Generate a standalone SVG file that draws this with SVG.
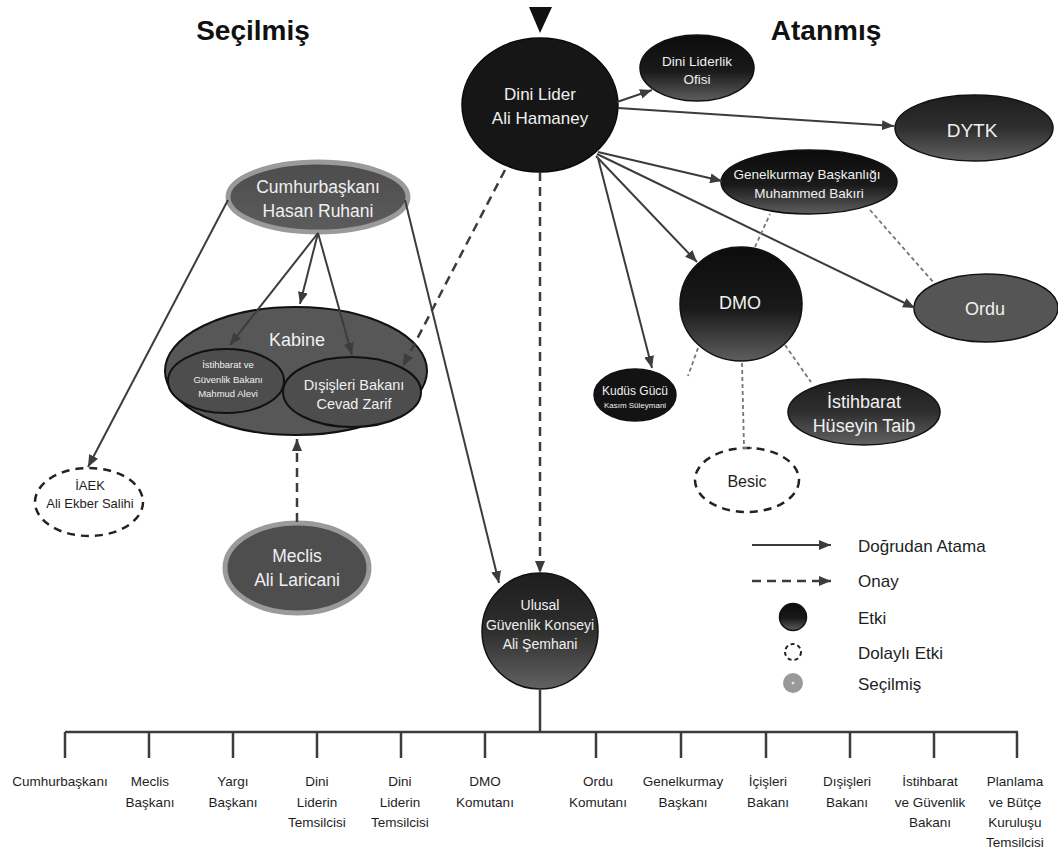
<svg xmlns="http://www.w3.org/2000/svg" width="1058" height="854" viewBox="0 0 1058 854">
<defs>
<linearGradient id="gBlack" x1="0" y1="0" x2="0" y2="1">
<stop offset="0" stop-color="#0c0c0c"/><stop offset="0.55" stop-color="#1a1a1a"/><stop offset="1" stop-color="#5e5e5e"/>
</linearGradient>
<linearGradient id="gDark" x1="0" y1="0" x2="0" y2="1">
<stop offset="0" stop-color="#1e1e1e"/><stop offset="0.5" stop-color="#2e2e2e"/><stop offset="1" stop-color="#626262"/>
</linearGradient>
<linearGradient id="gGray" x1="0" y1="0" x2="0" y2="1">
<stop offset="0" stop-color="#4c4c4c"/><stop offset="1" stop-color="#5c5c5c"/>
</linearGradient>
<marker id="ah" viewBox="0 0 12 10" refX="12" refY="5" markerWidth="12" markerHeight="10" markerUnits="userSpaceOnUse" orient="auto">
<path d="M0,0 L12,5 L0,10 z" fill="#3c3c3c"/>
</marker>
<style>
.t{font-family:"Liberation Sans",Arial,sans-serif;fill:#f0f0f0;text-anchor:middle}
.d{font-family:"Liberation Sans",Arial,sans-serif;fill:#1e1e1e;text-anchor:middle}
.title{font-family:"Liberation Sans",Arial,sans-serif;font-weight:bold;font-size:28px;fill:#111;text-anchor:middle}
.lg{font-family:"Liberation Sans",Arial,sans-serif;font-size:17px;fill:#1e1e1e}
.bl{font-family:"Liberation Sans",Arial,sans-serif;font-size:13.5px;fill:#1e1e1e;text-anchor:middle}
.sol{stroke:#3c3c3c;stroke-width:2;fill:none}
.dsh{stroke:#3c3c3c;stroke-width:2.5;fill:none;stroke-dasharray:9 6}
.thin{stroke:#777;stroke-width:1.8;fill:none;stroke-dasharray:4 3}
.tree{stroke:#3c3c3c;stroke-width:2.5;fill:none}
.etki{stroke:#111;stroke-width:1.5}
.sec{stroke:#9a9a9a;stroke-width:5}
.ind{fill:#fff;stroke:#222;stroke-width:2.5;stroke-dasharray:8 6}
</style>
</defs>
<rect width="1058" height="854" fill="#fff"/>

<text class="title" x="253" y="40">Seçilmiş</text>
<text class="title" x="826" y="40">Atanmış</text>
<polygon points="529,7 552,7 540,33" fill="#111"/>

<g id="dini-lider">
<ellipse cx="540" cy="105" rx="78" ry="67" fill="#161616" stroke="#0a0a0a" stroke-width="1.5"/>
<text class="t" x="540" y="100" font-size="17">Dini Lider</text>
<text class="t" x="540" y="124" font-size="17">Ali Hamaney</text>
</g>
<g id="ofis">
<ellipse cx="697" cy="68" rx="57" ry="33" fill="url(#gBlack)" class="etki"/>
<text class="t" x="697" y="66" font-size="13.5">Dini Liderlik</text>
<text class="t" x="697" y="84" font-size="13.5">Ofisi</text>
</g>
<g id="dytk">
<ellipse cx="974" cy="128" rx="79" ry="33" fill="url(#gDark)" class="etki"/>
<text class="t" x="972" y="137" font-size="19">DYTK</text>
</g>
<g id="genelkurmay">
<ellipse cx="809" cy="182" rx="88" ry="32" fill="url(#gBlack)" class="etki"/>
<text class="t" x="807" y="179" font-size="13.5">Genelkurmay Başkanlığı</text>
<text class="t" x="809" y="198" font-size="13.5">Muhammed Bakıri</text>
</g>
<g id="ordu">
<ellipse cx="986" cy="308" rx="72" ry="34" fill="#555" class="etki"/>
<text class="t" x="985" y="315" font-size="18">Ordu</text>
</g>
<g id="dmo">
<ellipse cx="741" cy="304" rx="61" ry="57" fill="url(#gBlack)" class="etki"/>
<text class="t" x="740" y="309" font-size="18">DMO</text>
</g>
<g id="kudus">
<ellipse cx="635" cy="395" rx="41" ry="26" fill="#131313" class="etki"/>
<text class="t" x="635" y="395" font-size="12">Kudüs Gücü</text>
<text class="t" x="635" y="408" font-size="8">Kasım Süleymani</text>
</g>
<g id="istihbarat">
<ellipse cx="864" cy="412" rx="76" ry="33" fill="url(#gDark)" class="etki"/>
<text class="t" x="864" y="408" font-size="18">İstihbarat</text>
<text class="t" x="864" y="432" font-size="18">Hüseyin Taib</text>
</g>
<g id="besic">
<ellipse cx="747" cy="480" rx="52" ry="32" class="ind"/>
<text class="d" x="747" y="487" font-size="16">Besic</text>
</g>

<g id="cumhurbaskani">
<ellipse cx="318" cy="197" rx="90" ry="35" fill="url(#gGray)" class="sec"/>
<text class="t" x="318" y="193" font-size="17.5">Cumhurbaşkanı</text>
<text class="t" x="318" y="217" font-size="17.5">Hasan Ruhani</text>
</g>
<g id="kabine">
<ellipse cx="296" cy="371" rx="131" ry="64" fill="#575757" stroke="#111" stroke-width="2"/>
<text class="t" x="297" y="346" font-size="18">Kabine</text>
<ellipse cx="226" cy="381" rx="58" ry="32" fill="#4d4d4d" stroke="#111" stroke-width="2"/>
<text class="t" x="228" y="368" font-size="9.5">İstihbarat ve</text>
<text class="t" x="228" y="383" font-size="9.5">Güvenlik Bakanı</text>
<text class="t" x="228" y="397" font-size="9.5">Mahmud Alevi</text>
<ellipse cx="352" cy="392" rx="69" ry="35" fill="#4d4d4d" stroke="#111" stroke-width="2"/>
<text class="t" x="354" y="390" font-size="14.5">Dışişleri Bakanı</text>
<text class="t" x="354" y="409" font-size="14.5">Cevad Zarif</text>
</g>
<g id="iaek">
<ellipse cx="89" cy="502" rx="54" ry="34" class="ind"/>
<text class="d" x="90" y="490" font-size="13">İAEK</text>
<text class="d" x="90" y="508" font-size="13">Ali Ekber Salihi</text>
</g>
<g id="meclis">
<ellipse cx="297" cy="568" rx="72" ry="45" fill="#4e4e4e" class="sec"/>
<text class="t" x="297" y="562" font-size="17.5">Meclis</text>
<text class="t" x="297" y="586" font-size="17.5">Ali Laricani</text>
</g>
<g id="ulusal">
<ellipse cx="540" cy="631" rx="58" ry="58" fill="url(#gDark)" class="etki"/>
<text class="t" x="540" y="610" font-size="14">Ulusal</text>
<text class="t" x="540" y="630" font-size="14">Güvenlik Konseyi</text>
<text class="t" x="540" y="649" font-size="14">Ali Şemhani</text>
</g>

<g id="connectors">
<line class="sol" x1="617" y1="102" x2="652" y2="90" marker-end="url(#ah)"/>
<line class="sol" x1="618" y1="108" x2="894" y2="126" marker-end="url(#ah)"/>
<line class="sol" x1="598" y1="152" x2="722" y2="181" marker-end="url(#ah)"/>
<line class="sol" x1="596" y1="156" x2="697" y2="262" marker-end="url(#ah)"/>
<line class="sol" x1="597" y1="154" x2="915" y2="308" marker-end="url(#ah)"/>
<line class="sol" x1="598" y1="158" x2="652" y2="368" marker-end="url(#ah)"/>
<line class="thin" x1="755" y1="247" x2="770" y2="214"/>
<line class="thin" x1="870" y1="210" x2="934" y2="283"/>
<line class="thin" x1="698" y1="348" x2="688" y2="376"/>
<polyline class="thin" points="742,363 744,448 752,448"/>
<line class="thin" x1="785" y1="345" x2="811" y2="382"/>
<line class="dsh" x1="505" y1="170" x2="403" y2="366" marker-end="url(#ah)"/>
<line class="dsh" x1="540" y1="172" x2="540" y2="573" marker-end="url(#ah)"/>
<line class="sol" x1="228" y1="200" x2="88" y2="467" marker-end="url(#ah)"/>
<line class="sol" x1="405" y1="200" x2="499" y2="583" marker-end="url(#ah)"/>
<line class="sol" x1="318" y1="233" x2="230" y2="345" marker-end="url(#ah)"/>
<line class="sol" x1="318" y1="233" x2="300" y2="304" marker-end="url(#ah)"/>
<line class="sol" x1="318" y1="233" x2="352" y2="355" marker-end="url(#ah)"/>
<line class="dsh" x1="297" y1="522" x2="297" y2="439" marker-end="url(#ah)"/>
<polyline class="tree" points="540,690 540,732"/>
<line class="tree" x1="65" y1="732" x2="1018" y2="732"/>
<path class="tree" d="M65,732V758M149,732V758M233,732V758M317,732V758M401,732V758M485,732V758M596,732V758M681,732V758M766,732V758M850,732V758M934,732V758M1017,732V758"/>
</g>

<g id="legend">
<line class="sol" x1="752" y1="545" x2="831" y2="545" marker-end="url(#ah)"/>
<text class="lg" x="858" y="552">Doğrudan Atama</text>
<line class="dsh" x1="752" y1="581" x2="831" y2="581" stroke-dasharray="7 6" marker-end="url(#ah)"/>
<text class="lg" x="858" y="587">Onay</text>
<circle cx="793" cy="617" r="13.5" fill="url(#gBlack)" stroke="#111" stroke-width="1.5"/>
<text class="lg" x="858" y="624">Etki</text>
<circle cx="793" cy="652" r="8" fill="none" stroke="#222" stroke-width="2" stroke-dasharray="4 3"/>
<text class="lg" x="858" y="659">Dolaylı Etki</text>
<circle cx="793" cy="683" r="10" fill="#999"/>
<circle cx="793" cy="683" r="1.5" fill="#ddd"/>
<text class="lg" x="858" y="690">Seçilmiş</text>
</g>

<g id="members">
<text class="bl" x="60" y="786">Cumhurbaşkanı</text>
<text class="bl" x="150" y="786">Meclis</text><text class="bl" x="150" y="807">Başkanı</text>
<text class="bl" x="233" y="786">Yargı</text><text class="bl" x="233" y="807">Başkanı</text>
<text class="bl" x="317" y="786">Dini</text><text class="bl" x="317" y="807">Liderin</text><text class="bl" x="317" y="827">Temsilcisi</text>
<text class="bl" x="400" y="786">Dini</text><text class="bl" x="400" y="807">Liderin</text><text class="bl" x="400" y="827">Temsilcisi</text>
<text class="bl" x="485" y="786">DMO</text><text class="bl" x="485" y="807">Komutanı</text>
<text class="bl" x="598" y="786">Ordu</text><text class="bl" x="598" y="807">Komutanı</text>
<text class="bl" x="683" y="786">Genelkurmay</text><text class="bl" x="683" y="807">Başkanı</text>
<text class="bl" x="768" y="786">İçişleri</text><text class="bl" x="768" y="807">Bakanı</text>
<text class="bl" x="847" y="786">Dışişleri</text><text class="bl" x="847" y="807">Bakanı</text>
<text class="bl" x="930" y="786">İstihbarat</text><text class="bl" x="930" y="807">ve Güvenlik</text><text class="bl" x="930" y="827">Bakanı</text>
<text class="bl" x="1015" y="786">Planlama</text><text class="bl" x="1015" y="807">ve Bütçe</text><text class="bl" x="1015" y="827">Kuruluşu</text><text class="bl" x="1015" y="847">Temsilcisi</text>
</g>
</svg>
